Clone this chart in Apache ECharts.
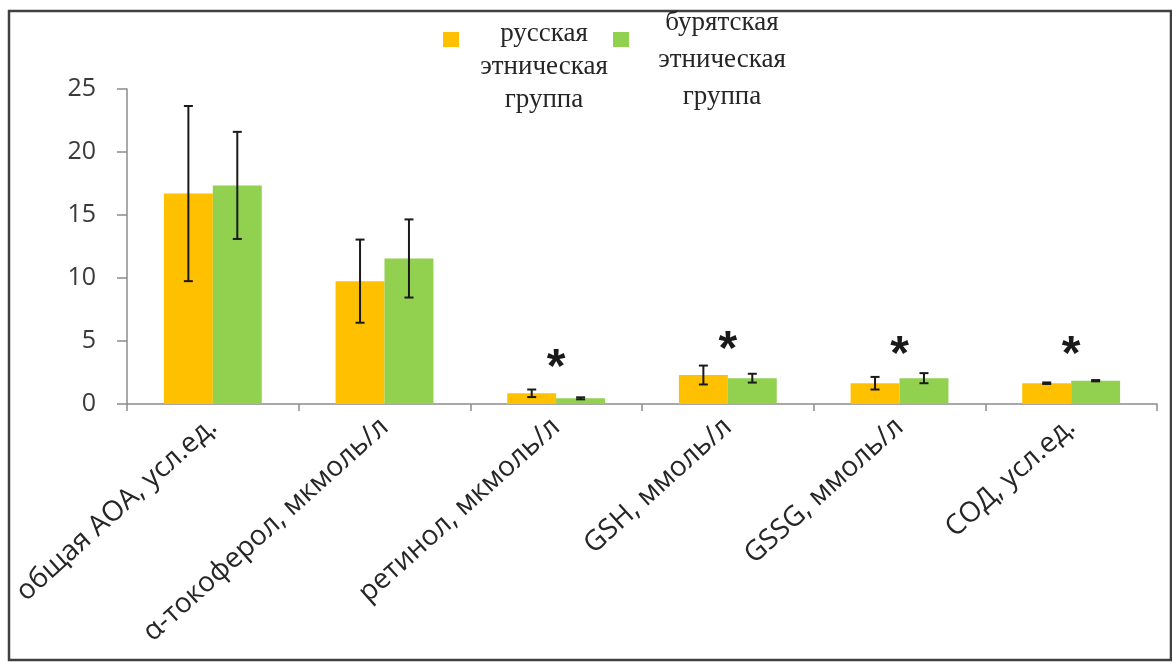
<!DOCTYPE html>
<html>
<head>
<meta charset="utf-8">
<script src="https://cdn.jsdelivr.net/npm/echarts@6/dist/echarts.min.js"></script>
<style>
  html, body { margin: 0; padding: 0; background: #ffffff; }
  #chart { width: 1172px; height: 662px; }
</style>
</head>
<body>
<div id="chart"></div>
<script>
// Antioxidant indicators by ethnic group (mean ± deviation)
const categories = [
  'общая АОА, усл.ед.',
  'α-токоферол, мкмоль/л',
  'ретинол, мкмоль/л',
  'GSH, ммоль/л',
  'GSSG, ммоль/л',
  'СОД, усл.ед.'
];
const groupNames = ['русская\nэтническая\nгруппа', 'бурятская\nэтническая\nгруппа'];
const russianMeans  = [16.7, 9.75, 0.85, 2.3, 1.65, 1.65];
const russianErrors = [6.95, 3.3, 0.3, 0.75, 0.5, 0.06];
const buryatMeans   = [17.35, 11.55, 0.45, 2.05, 2.05, 1.85];
const buryatErrors  = [4.25, 3.1, 0.08, 0.35, 0.4, 0.05];
// height (in axis units) of the significance mark; null = no mark
const significanceMarks = [null, null, 2.8, 4.2, 3.8, 3.8];
const yTicks = [0, 5, 10, 15, 20, 25];

const ORANGE = '#FFC000';
const GREEN = '#92D050';
const BAR_SHARE = 0.285; // bar width as share of category band

const chart = echarts.init(document.getElementById('chart'), null, { renderer: 'canvas' });

function errorBarRenderer(side) {
  return function (params, api) {
    const idx = api.value(0);
    const lo = api.coord([idx, api.value(1)]);
    const hi = api.coord([idx, api.value(2)]);
    const band = api.size([1, 0])[0];
    const x = lo[0] + side * band * BAR_SHARE / 2;
    const cap = 4.5;
    const style = { stroke: '#1a1a1a', lineWidth: 2 };
    return {
      type: 'group',
      children: [
        { type: 'line', shape: { x1: x, y1: lo[1], x2: x, y2: hi[1] }, style },
        { type: 'line', shape: { x1: x - cap, y1: lo[1], x2: x + cap, y2: lo[1] }, style },
        { type: 'line', shape: { x1: x - cap, y1: hi[1], x2: x + cap, y2: hi[1] }, style }
      ]
    };
  };
}

const russianErrData = russianMeans.map((m, i) => [i, m - russianErrors[i], m + russianErrors[i]]);
const buryatErrData = buryatMeans.map((m, i) => [i, m - buryatErrors[i], m + buryatErrors[i]]);
const markData = significanceMarks
  .map((v, i) => (v == null ? null : [i, v]))
  .filter(d => d !== null);

const legendFont = '27px "Liberation Serif", "Times New Roman", serif';

const option = {
  backgroundColor: '#ffffff',
  animation: false,
  grid: { left: 127, right: 15, top: 89, bottom: 258 },
  xAxis: {
    type: 'category',
    data: categories,
    axisLine: { lineStyle: { color: '#8c8c8c', width: 1.5 } },
    axisTick: { show: true, length: 7, lineStyle: { color: '#8c8c8c', width: 1.5 } },
    axisLabel: {
      interval: 0,
      rotate: 42,
      margin: 19,
      color: '#262626',
      fontFamily: '"Open Sans", sans-serif',
      fontSize: 28
    }
  },
  yAxis: {
    type: 'value',
    min: yTicks[0],
    max: yTicks[yTicks.length - 1],
    interval: yTicks[1] - yTicks[0],
    axisLine: { show: true, lineStyle: { color: '#8c8c8c', width: 1.5 } },
    axisTick: { show: true, length: 10, lineStyle: { color: '#8c8c8c', width: 1.5 } },
    splitLine: { show: false },
    axisLabel: {
      margin: 31,
      color: '#3a3a3a',
      fontFamily: '"Open Sans", sans-serif',
      fontSize: 25
    }
  },
  graphic: [
    {
      type: 'rect',
      shape: { x: 9, y: 11, width: 1162, height: 649 },
      style: { fill: 'none', stroke: '#404040', lineWidth: 2.5 },
      silent: true
    },
    { type: 'rect', shape: { x: 443, y: 32, width: 16, height: 15 }, style: { fill: ORANGE } },
    {
      type: 'text', x: 544, y: 17,
      style: {
        text: groupNames[0], align: 'center', verticalAlign: 'top',
        font: legendFont, lineHeight: 33, fill: '#262626'
      }
    },
    { type: 'rect', shape: { x: 613, y: 32, width: 16, height: 15 }, style: { fill: GREEN } },
    {
      type: 'text', x: 722, y: 4,
      style: {
        text: groupNames[1], align: 'center', verticalAlign: 'top',
        font: legendFont, lineHeight: 37, fill: '#262626'
      }
    }
  ],
  series: [
    {
      name: groupNames[0],
      type: 'bar',
      data: russianMeans,
      barWidth: (BAR_SHARE * 100) + '%',
      barGap: '0%',
      itemStyle: { color: ORANGE }
    },
    {
      name: groupNames[1],
      type: 'bar',
      data: buryatMeans,
      barWidth: (BAR_SHARE * 100) + '%',
      barGap: '0%',
      itemStyle: { color: GREEN }
    },
    {
      type: 'custom',
      renderItem: errorBarRenderer(-1),
      data: russianErrData,
      encode: { x: 0, y: [1, 2] },
      z: 10
    },
    {
      type: 'custom',
      renderItem: errorBarRenderer(1),
      data: buryatErrData,
      encode: { x: 0, y: [1, 2] },
      z: 10
    },
    {
      type: 'custom',
      data: markData,
      encode: { x: 0, y: 1 },
      z: 10,
      renderItem: function (params, api) {
        const p = api.coord([api.value(0), api.value(1)]);
        return {
          type: 'text',
          x: p[0],
          y: p[1],
          style: {
            text: '*',
            align: 'center',
            verticalAlign: 'middle',
            font: 'bold 48px "Liberation Sans", Arial, sans-serif',
            fill: '#1a1a1a'
          }
        };
      }
    }
  ]
};

chart.setOption(option);
</script>
</body>
</html>
